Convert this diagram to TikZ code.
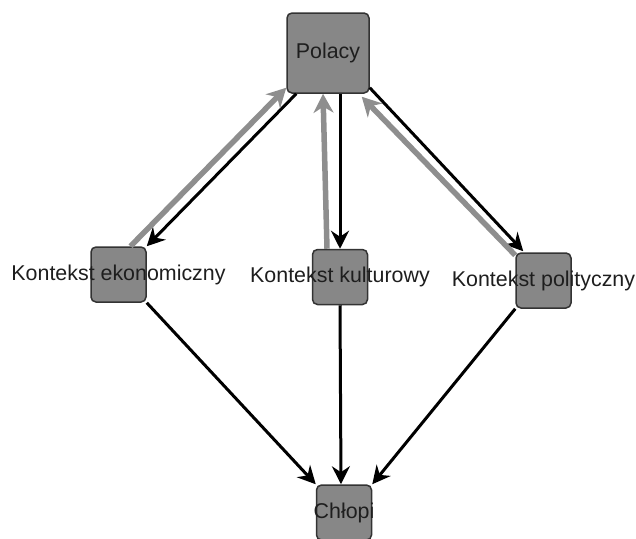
\documentclass[tikz,border=0pt]{standalone}
\usepackage{fontspec}
\setmainfont{Liberation Sans}
\usetikzlibrary{arrows.meta}
\definecolor{boxgray}{HTML}{878787}
\definecolor{boxline}{HTML}{333333}
\definecolor{backgray}{HTML}{8E8E8E}
\definecolor{txtgray}{HTML}{1E1E1E}

\begin{document}
\begin{tikzpicture}[x=1pt,y=-1pt,-]
    \tikzstyle{box}=[rectangle,rounded corners=5pt,draw=boxline,line width=1.5pt,fill=boxgray,minimum width=55pt,minimum height=55pt,inner sep=0pt]
    \tikzstyle{boxtext}=[text=txtgray,font=\fontsize{21.4}{25}\selectfont,inner sep=0pt]
    \tikzstyle{forward}=[line width=3pt,draw=black,-{Stealth[length=18pt,width=18pt,inset=6pt]}]
    \tikzstyle{backward}=[line width=5.5pt,draw=backgray,-{Stealth[length=19pt,width=20pt,inset=6pt]}]
    \useasboundingbox (0,0) rectangle (636,538);

    \node[box,minimum width=82pt,minimum height=80pt,label={[boxtext]center:Polacy}] (pol) at (328,53) {};
    \foreach \name/\x/\y/\txt in {ekon/118.5/274.5/Kontekst ekonomiczny, kult/340/277/Kontekst kulturowy, polit/543.5/280.5/Kontekst polityczny, chl/344/512.5/Chłopi}
            \node[box,label={[boxtext]center:\txt}] (\name) at (\x,\y) {};

        % Polacy -> konteksty
        \draw[forward] ([xshift=10pt]pol.south west) -- (ekon.north east);
        \draw[forward] ([xshift=12pt]pol.south) -- (kult.north);
        \draw[forward] ([yshift=6pt]pol.south east) -- ([xshift=8pt,yshift=1pt]polit.north west);

        % konteksty -> Polacy
        \draw[backward] ([xshift=12pt]ekon.north) -- ([yshift=6pt]pol.south west);
        \draw[backward] ([xshift=-13pt]kult.north) -- ([xshift=-5pt]pol.south);
        \draw[backward] ([yshift=-3pt]polit.north west) -- ([xshift=-8pt,yshift=-3pt]pol.south east);

        % konteksty -> Chlopi
        \draw[forward] (ekon.south east) -- (chl.north west);
        \draw[forward] (kult.south) -- ([xshift=-3pt]chl.north);
        \draw[forward] (polit.south west) -- (chl.north east);
\end{tikzpicture}
\end{document}
